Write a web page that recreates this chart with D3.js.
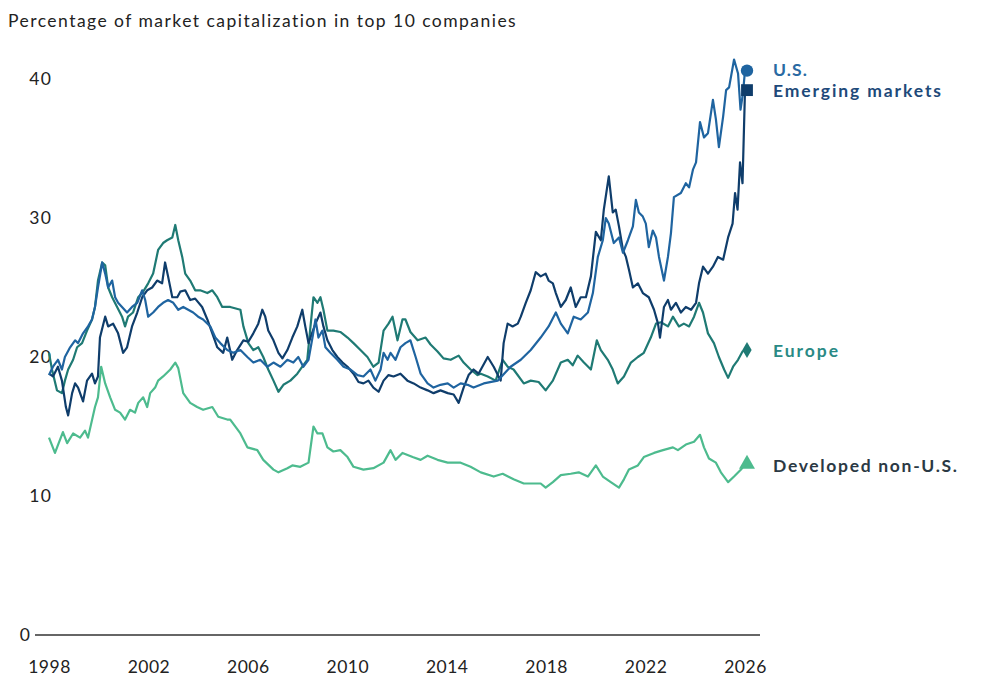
<!DOCTYPE html>
<html>
<head>
<meta charset="utf-8">
<script src="https://cdn.jsdelivr.net/npm/d3@7"></script>
<style>
  body { margin: 0; background: #fff; }
  #chart { width: 985px; height: 690px; }
  text { font-family: Lato, "Open Sans", sans-serif; }
</style>
</head>
<body>
<div id="chart"></div>
<script>
////////////////////////////////////////////////////////////////////
////////////////////////////  Data  ////////////////////////////////
const title = "Percentage of market capitalization in top 10 companies";
const yTicks = [0, 10, 20, 30, 40];
const xTicks = [1998, 2002, 2006, 2010, 2014, 2018, 2022, 2026];

// [year, % of market cap in top 10]
const usSeries = [
  [1998.00, 18.7], [1998.16, 19.3], [1998.36, 19.8], [1998.52, 19.1], [1998.64, 20.0],
  [1998.85, 20.7], [1999.05, 21.2], [1999.17, 21.0], [1999.37, 21.7], [1999.57, 22.2],
  [1999.73, 22.7], [1999.85, 23.6], [1999.97, 25.0], [2000.14, 26.8], [2000.26, 26.0],
  [2000.38, 25.0], [2000.54, 25.5], [2000.66, 24.3], [2000.78, 23.9], [2001.14, 23.2],
  [2001.34, 23.6], [2001.55, 23.9], [2001.75, 24.8], [2001.87, 24.1], [2001.99, 22.9],
  [2002.19, 23.2], [2002.39, 23.6], [2002.59, 23.9], [2002.79, 24.1], [2003.00, 23.9],
  [2003.20, 23.4], [2003.40, 23.6], [2003.60, 23.4], [2003.80, 23.2], [2004.00, 22.9],
  [2004.20, 22.7], [2004.49, 22.2], [2004.69, 21.4], [2004.89, 21.0], [2005.17, 20.5],
  [2005.41, 20.3], [2005.70, 20.5], [2005.98, 20.0], [2006.22, 19.6], [2006.50, 19.8],
  [2006.78, 19.3], [2007.03, 19.6], [2007.31, 19.3], [2007.59, 19.8], [2007.83, 19.6],
  [2008.03, 20.0], [2008.23, 19.3], [2008.44, 19.8], [2008.60, 21.4], [2008.72, 22.7],
  [2008.84, 21.4], [2009.00, 21.9], [2009.12, 20.7], [2009.32, 20.3], [2009.60, 19.8],
  [2009.85, 19.3], [2010.13, 19.1], [2010.41, 18.7], [2010.65, 18.6], [2010.93, 19.1],
  [2011.13, 18.3], [2011.34, 19.1], [2011.46, 20.3], [2011.62, 19.8], [2011.74, 20.3],
  [2011.94, 19.8], [2012.14, 20.7], [2012.34, 21.0], [2012.54, 21.2], [2012.75, 20.0],
  [2012.95, 18.8], [2013.23, 18.1], [2013.47, 17.8], [2013.75, 18.0], [2014.04, 18.1],
  [2014.28, 17.8], [2014.56, 18.1], [2014.84, 18.0], [2015.08, 17.8], [2015.49, 18.1],
  [2016.05, 18.3], [2016.57, 19.3], [2016.98, 19.8], [2017.38, 20.5], [2017.78, 21.4],
  [2018.10, 22.2], [2018.39, 23.2], [2018.59, 22.4], [2018.87, 21.7], [2019.11, 22.9],
  [2019.39, 22.7], [2019.68, 23.2], [2019.88, 24.6], [2020.08, 27.2], [2020.28, 28.4],
  [2020.40, 30.0], [2020.52, 29.6], [2020.72, 28.2], [2020.93, 28.6], [2021.09, 27.5],
  [2021.29, 28.4], [2021.49, 29.4], [2021.61, 31.3], [2021.73, 30.4], [2021.89, 30.1],
  [2022.01, 29.6], [2022.13, 27.9], [2022.29, 29.1], [2022.42, 28.6], [2022.54, 27.2],
  [2022.74, 25.5], [2022.90, 27.2], [2023.02, 28.9], [2023.14, 31.5], [2023.42, 31.8],
  [2023.62, 32.5], [2023.75, 32.2], [2023.91, 33.5], [2024.03, 34.0], [2024.19, 36.9],
  [2024.35, 35.8], [2024.51, 36.1], [2024.71, 38.5], [2024.83, 37.1], [2024.95, 35.1],
  [2025.12, 37.3], [2025.24, 39.2], [2025.36, 39.4], [2025.56, 41.4], [2025.72, 40.4],
  [2025.82, 37.8], [2025.92, 39.0], [2026.00, 40.6]
];

const emSeries = [
  [1998.00, 18.8], [1998.16, 18.6], [1998.36, 19.3], [1998.52, 18.3], [1998.68, 16.4],
  [1998.77, 15.8], [1998.93, 17.4], [1999.05, 18.1], [1999.17, 17.8], [1999.37, 16.8],
  [1999.53, 18.3], [1999.73, 18.8], [1999.85, 18.1], [1999.97, 18.6], [2000.05, 21.4],
  [2000.26, 22.9], [2000.38, 22.2], [2000.58, 22.4], [2000.78, 21.7], [2000.98, 20.3],
  [2001.14, 20.7], [2001.34, 22.2], [2001.55, 23.2], [2001.75, 24.3], [2001.95, 24.8],
  [2002.15, 25.0], [2002.35, 25.5], [2002.55, 25.3], [2002.67, 26.8], [2002.79, 25.8],
  [2002.96, 24.3], [2003.16, 24.3], [2003.28, 24.7], [2003.48, 24.8], [2003.68, 24.1],
  [2003.88, 24.2], [2004.16, 23.6], [2004.37, 22.7], [2004.57, 21.7], [2004.77, 20.7],
  [2005.01, 20.3], [2005.17, 21.4], [2005.37, 19.8], [2005.57, 20.5], [2005.82, 21.2],
  [2006.02, 21.1], [2006.22, 21.7], [2006.42, 22.4], [2006.58, 23.4], [2006.70, 22.9],
  [2006.82, 21.9], [2007.03, 21.2], [2007.23, 20.3], [2007.39, 19.9], [2007.59, 20.5],
  [2007.79, 21.4], [2007.99, 22.2], [2008.19, 23.4], [2008.31, 22.2], [2008.44, 21.0],
  [2008.60, 21.8], [2008.72, 22.4], [2008.92, 23.2], [2009.04, 22.2], [2009.20, 21.2],
  [2009.40, 20.5], [2009.60, 20.0], [2009.81, 19.6], [2010.01, 19.3], [2010.25, 18.8],
  [2010.45, 18.2], [2010.65, 18.1], [2010.85, 18.3], [2011.05, 17.8], [2011.26, 17.5],
  [2011.46, 18.3], [2011.66, 18.7], [2011.86, 18.6], [2012.14, 18.8], [2012.42, 18.3],
  [2012.67, 18.1], [2012.95, 17.8], [2013.23, 17.6], [2013.47, 17.4], [2013.75, 17.6],
  [2014.04, 17.4], [2014.28, 17.3], [2014.48, 16.7], [2014.68, 17.8], [2014.88, 18.7],
  [2015.08, 19.1], [2015.28, 18.8], [2015.65, 20.0], [2015.89, 19.3], [2016.17, 18.3],
  [2016.29, 21.0], [2016.45, 22.4], [2016.65, 22.2], [2016.86, 22.4], [2016.98, 22.9],
  [2017.18, 23.9], [2017.38, 24.8], [2017.58, 26.1], [2017.78, 25.8], [2017.98, 26.0],
  [2018.10, 25.5], [2018.27, 25.3], [2018.39, 24.6], [2018.59, 23.6], [2018.79, 24.1],
  [2018.99, 25.0], [2019.19, 23.6], [2019.39, 24.3], [2019.60, 24.3], [2019.80, 25.8],
  [2020.00, 29.0], [2020.20, 28.4], [2020.32, 30.6], [2020.52, 33.0], [2020.68, 30.4],
  [2020.80, 30.6], [2020.93, 29.4], [2021.09, 27.7], [2021.21, 27.2], [2021.33, 26.3],
  [2021.49, 25.0], [2021.69, 25.3], [2021.89, 24.6], [2022.13, 24.3], [2022.34, 23.4],
  [2022.50, 22.4], [2022.58, 21.4], [2022.74, 23.6], [2022.90, 24.1], [2023.02, 23.4],
  [2023.22, 23.9], [2023.42, 23.2], [2023.62, 23.6], [2023.83, 23.4], [2024.03, 23.9],
  [2024.15, 25.3], [2024.31, 26.5], [2024.51, 26.0], [2024.71, 26.5], [2024.91, 27.2],
  [2025.12, 27.0], [2025.32, 28.6], [2025.50, 29.6], [2025.60, 31.8], [2025.70, 30.6],
  [2025.80, 34.0], [2025.90, 32.5], [2026.00, 39.2]
];

const europeSeries = [
  [1998.00, 20.3], [1998.12, 19.1], [1998.32, 17.6], [1998.52, 17.4], [1998.64, 18.3],
  [1998.77, 19.1], [1998.97, 19.8], [1999.13, 20.7], [1999.33, 21.0], [1999.53, 21.9],
  [1999.73, 22.7], [1999.85, 23.6], [1999.97, 25.5], [2000.14, 26.8], [2000.26, 26.6],
  [2000.38, 25.0], [2000.54, 24.3], [2000.74, 23.6], [2000.94, 22.9], [2001.06, 22.2],
  [2001.18, 22.9], [2001.38, 23.2], [2001.59, 24.3], [2001.79, 24.7], [2001.99, 25.3],
  [2002.19, 26.0], [2002.39, 27.7], [2002.59, 28.2], [2002.75, 28.4], [2002.96, 28.6],
  [2003.08, 29.5], [2003.20, 28.4], [2003.36, 27.2], [2003.48, 26.0], [2003.68, 25.5],
  [2003.88, 24.8], [2004.08, 24.8], [2004.37, 24.6], [2004.57, 24.8], [2004.77, 24.3],
  [2004.97, 23.6], [2005.29, 23.6], [2005.70, 23.4], [2005.82, 22.2], [2006.02, 21.0],
  [2006.22, 20.5], [2006.42, 20.7], [2006.62, 20.0], [2006.82, 19.1], [2007.03, 18.3],
  [2007.23, 17.5], [2007.43, 18.0], [2007.71, 18.3], [2007.99, 18.8], [2008.19, 19.3],
  [2008.39, 19.8], [2008.52, 22.2], [2008.64, 24.3], [2008.80, 23.9], [2008.92, 24.3],
  [2009.04, 23.4], [2009.20, 21.9], [2009.44, 21.9], [2009.72, 21.8], [2010.01, 21.4],
  [2010.25, 21.0], [2010.53, 20.5], [2010.81, 20.0], [2011.05, 19.3], [2011.26, 19.6],
  [2011.46, 21.9], [2011.66, 22.4], [2011.82, 22.9], [2012.02, 21.2], [2012.22, 22.7],
  [2012.34, 22.7], [2012.54, 21.8], [2012.83, 21.2], [2013.15, 21.4], [2013.35, 20.9],
  [2013.63, 20.4], [2013.87, 19.9], [2014.16, 19.8], [2014.48, 20.1], [2014.68, 19.6],
  [2014.96, 19.1], [2015.24, 18.7], [2015.37, 18.8], [2015.65, 18.6], [2015.97, 18.3],
  [2016.25, 19.8], [2016.45, 19.3], [2016.69, 19.1], [2017.10, 18.1], [2017.38, 18.3],
  [2017.70, 18.2], [2017.98, 17.6], [2018.27, 18.3], [2018.59, 19.6], [2018.87, 19.8],
  [2019.07, 19.4], [2019.27, 20.1], [2019.52, 19.6], [2019.80, 19.1], [2020.04, 21.2],
  [2020.20, 20.5], [2020.48, 19.8], [2020.68, 19.1], [2020.88, 18.1], [2021.13, 18.6],
  [2021.41, 19.6], [2021.69, 20.0], [2021.93, 20.3], [2022.21, 21.4], [2022.42, 22.4],
  [2022.62, 22.5], [2022.90, 22.2], [2023.10, 22.9], [2023.34, 22.2], [2023.54, 22.4],
  [2023.75, 22.2], [2023.95, 22.9], [2024.15, 23.9], [2024.31, 23.2], [2024.51, 21.7],
  [2024.75, 21.0], [2024.95, 20.0], [2025.16, 19.1], [2025.32, 18.5], [2025.52, 19.3],
  [2025.72, 19.8], [2025.90, 20.4], [2026.00, 20.5]
];

const devSeries = [
  [1998.00, 14.2], [1998.24, 13.1], [1998.56, 14.6], [1998.73, 13.8], [1998.97, 14.5],
  [1999.25, 14.2], [1999.45, 14.7], [1999.57, 14.2], [1999.85, 16.4], [1999.97, 17.1],
  [2000.10, 19.3], [2000.26, 18.1], [2000.46, 17.1], [2000.66, 16.2], [2000.86, 16.0],
  [2001.06, 15.5], [2001.26, 16.2], [2001.46, 16.0], [2001.59, 16.7], [2001.79, 17.1],
  [2001.95, 16.4], [2002.07, 17.4], [2002.27, 17.8], [2002.39, 18.3], [2002.59, 18.6],
  [2002.88, 19.1], [2003.08, 19.6], [2003.20, 19.2], [2003.40, 17.4], [2003.68, 16.7],
  [2003.96, 16.4], [2004.20, 16.2], [2004.57, 16.4], [2004.81, 15.7], [2005.17, 15.5],
  [2005.29, 15.5], [2005.70, 14.5], [2005.98, 13.5], [2006.38, 13.3], [2006.62, 12.6],
  [2007.03, 11.9], [2007.23, 11.7], [2007.59, 12.0], [2007.79, 12.2], [2008.11, 12.1],
  [2008.44, 12.4], [2008.64, 15.0], [2008.80, 14.5], [2009.00, 14.5], [2009.20, 13.5],
  [2009.44, 13.2], [2009.72, 13.3], [2010.01, 12.8], [2010.25, 12.1], [2010.65, 11.9],
  [2011.05, 12.0], [2011.46, 12.4], [2011.74, 13.3], [2011.94, 12.6], [2012.22, 13.1],
  [2012.63, 12.8], [2012.95, 12.6], [2013.23, 12.9], [2013.63, 12.6], [2014.04, 12.4],
  [2014.56, 12.4], [2014.96, 12.1], [2015.37, 11.7], [2015.89, 11.4], [2016.25, 11.6],
  [2016.69, 11.2], [2017.10, 10.9], [2017.78, 10.9], [2017.98, 10.6], [2018.27, 11.0],
  [2018.59, 11.5], [2018.99, 11.6], [2019.31, 11.7], [2019.68, 11.4], [2020.00, 12.2],
  [2020.28, 11.4], [2020.60, 11.0], [2020.93, 10.6], [2021.13, 11.2], [2021.33, 11.9],
  [2021.69, 12.2], [2021.93, 12.8], [2022.34, 13.1], [2022.70, 13.3], [2023.10, 13.5],
  [2023.30, 13.3], [2023.62, 13.7], [2023.95, 13.9], [2024.19, 14.4], [2024.35, 13.5],
  [2024.55, 12.7], [2024.83, 12.4], [2025.03, 11.7], [2025.32, 11.0], [2025.56, 11.4],
  [2025.84, 11.9], [2026.00, 12.3]
];

const seriesNames = ["Developed non-U.S.", "Europe", "Emerging markets", "U.S."];
const seriesData = [devSeries, europeSeries, emSeries, usSeries];
const seriesColors = ["#4dbb8e", "#1f7a74", "#0f3d6b", "#1f64a0"];
const labelColors = ["#2b3944", "#2a8a85", "#1e4a7a", "#2a6aa3"];
const markerShapes = [d3.symbolTriangle, d3.symbolDiamond, d3.symbolSquare, d3.symbolCircle];
const markerSizes = [110, 75, 140, 120];

////////////////////////////////////////////////////////////////////
////////////////////////////  Init  ///////////////////////////////
const width = 985;
const height = 690;

const svg = d3.select("#chart").append("svg")
  .attr("width", width)
  .attr("height", height);

const xScale = d3.scaleLinear().domain([1998, 2026]).range([49, 745]);
const yScale = d3.scaleLinear().domain([0, 40]).range([635, 79]);

// stretch a text node to the width it has in the reference
function fitWidth(sel, target) {
  sel.each(function () {
    const n = this.getNumberOfChars();
    const len = this.getComputedTextLength();
    if (n > 1) d3.select(this).attr("letter-spacing", (target - len) / (n - 1));
  });
}

// title
svg.append("text")
  .attr("x", 8)
  .attr("y", 27)
  .attr("font-size", 17.5)
  .attr("fill", "#222")
  .text(title)
  .call(fitWidth, 508);

// y labels
svg.append("g")
  .selectAll("text")
  .data(yTicks)
  .join("text")
  .attr("x", (d) => (d === 0 ? 31 : 52))
  .attr("y", (d) => yScale(d))
  .attr("dy", "0.35em")
  .attr("text-anchor", "end")
  .attr("font-size", 17.5)
  .attr("letter-spacing", 1.2)
  .attr("fill", "#222")
  .text((d) => d);

// baseline
svg.append("line")
  .attr("x1", 35)
  .attr("x2", 760)
  .attr("y1", yScale(0))
  .attr("y2", yScale(0))
  .attr("stroke", "#333")
  .attr("stroke-width", 1.5);

// x labels
const xAxis = d3.axisBottom(xScale)
  .tickValues(xTicks)
  .tickFormat(d3.format("d"))
  .tickSize(0)
  .tickPadding(26);

svg.append("g")
  .attr("class", "x-axis")
  .attr("transform", `translate(0,${yScale(0)})`)
  .call(xAxis)
  .call((g) => g.select(".domain").remove())
  .call((g) => g.selectAll("text")
    .attr("font-size", 17.5)
    .attr("font-family", "Lato, sans-serif")
    .attr("letter-spacing", 0.5)
    .attr("fill", "#222"));

// lines
const line = d3.line()
  .x((d) => xScale(d[0]))
  .y((d) => yScale(d[1]));

seriesData.forEach((s, i) => {
  svg.append("path")
    .datum(s)
    .attr("fill", "none")
    .attr("stroke", seriesColors[i])
    .attr("stroke-width", 2.2)
    .attr("stroke-linejoin", "round")
    .attr("d", line);
});

// end markers
seriesData.forEach((s, i) => {
  const last = s[s.length - 1];
  svg.append("path")
    .attr("d", d3.symbol().type(markerShapes[i]).size(markerSizes[i]))
    .attr("transform", `translate(${xScale(last[0]) + 2},${yScale(last[1])})`)
    .attr("fill", seriesColors[i]);
});

// labels
const labelY = [466, 351, 91, 70];
const labelWidths = [184, 65, 168, 34];
seriesNames.forEach((name, i) => {
  svg.append("text")
    .attr("x", 773)
    .attr("y", labelY[i])
    .attr("dy", "0.35em")
    .attr("font-size", 17.5)
    .attr("font-weight", "bold")
    .attr("fill", labelColors[i])
    .text(name)
    .call(fitWidth, labelWidths[i]);
});
</script>
</body>
</html>
